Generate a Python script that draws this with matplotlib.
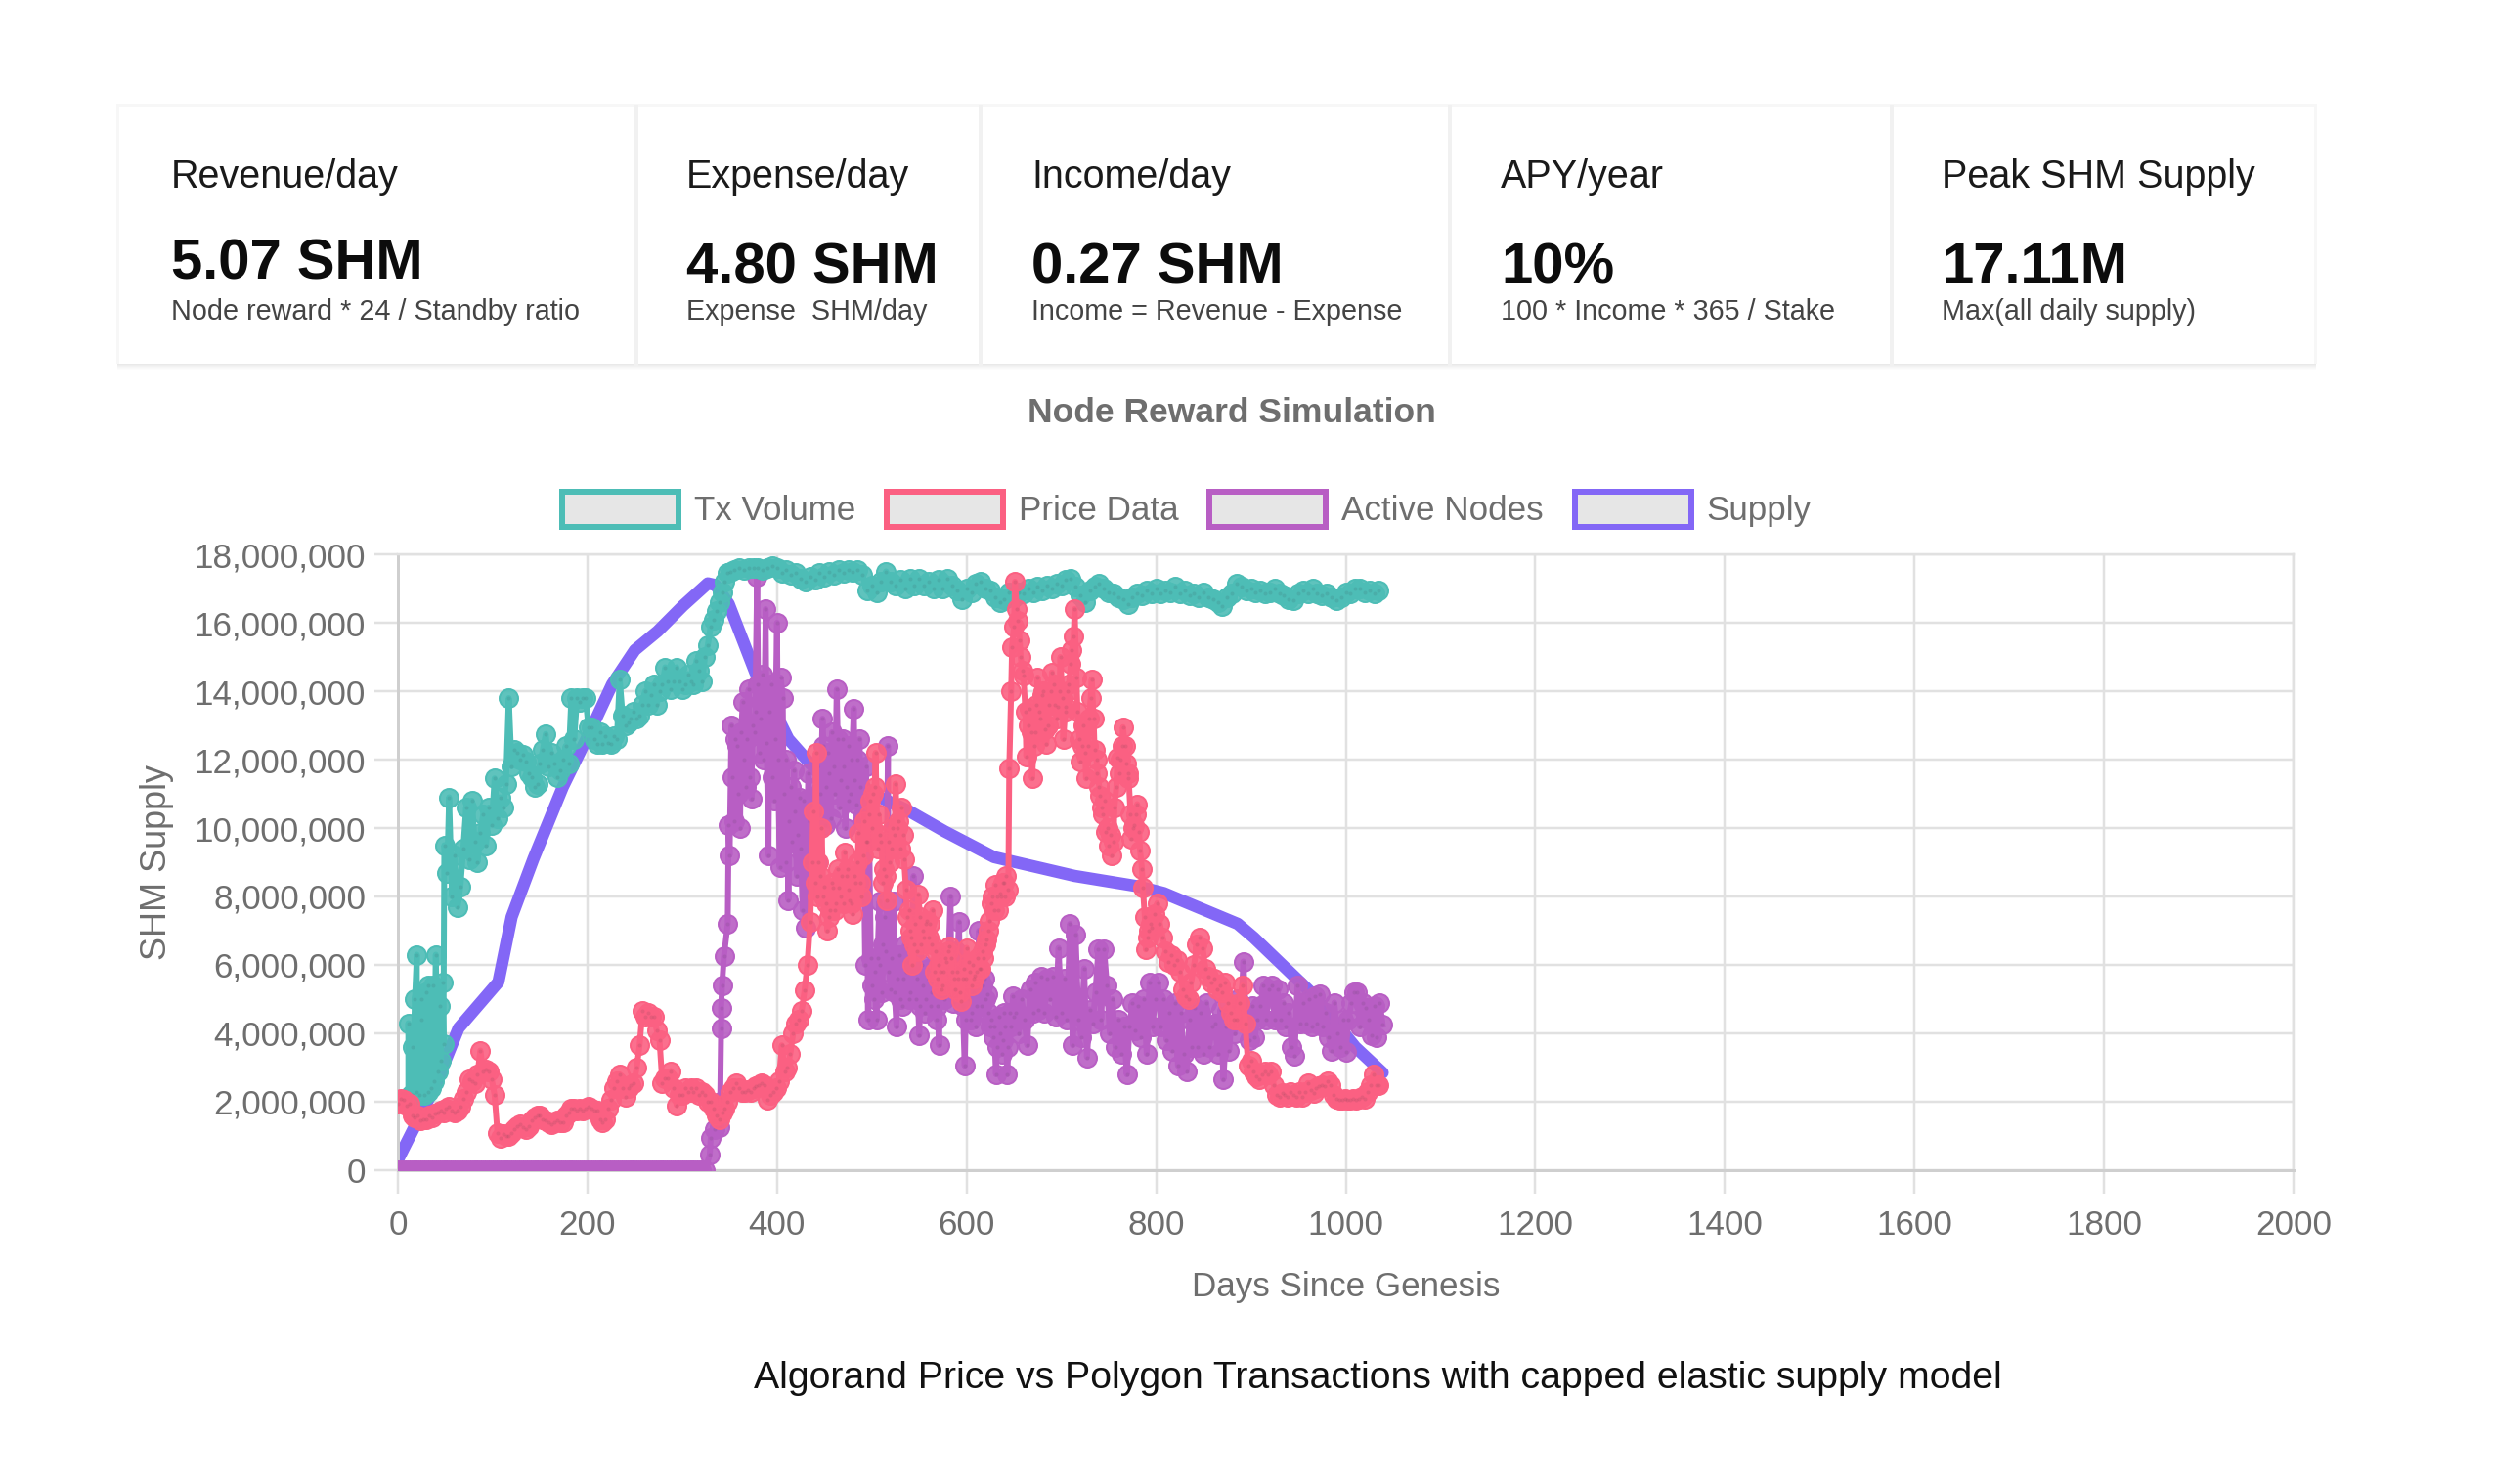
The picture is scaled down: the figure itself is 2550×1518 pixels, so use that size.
import matplotlib
matplotlib.use('Agg')
import matplotlib.pyplot as plt
import numpy as np
from matplotlib.colors import to_rgba
from matplotlib.patches import Patch, Rectangle
from matplotlib.ticker import StrMethodFormatter

# values in millions of SHM
supply_points = [
    (0, 0.3), (40, 2.5), (64, 4.15), (106, 5.5), (120, 7.4), (143, 9.1), (174, 11.2), (205, 12.95),
    (226, 14.2), (250, 15.2), (274, 15.75), (301, 16.5), (327, 17.15), (335, 17.1), (349, 16.55),
    (377, 14.55), (412, 12.6), (436, 11.85), (539, 10.5), (577, 9.9), (629, 9.15), (652, 9.0),
    (714, 8.6), (780, 8.3), (808, 8.1), (886, 7.2), (903, 6.8), (965, 5.15), (1010, 3.6), (1039, 2.85),
]

# Tx Volume: scattered start, then one value every 3 days from day 54, every 5 days from day 355
tx_start = [
    (11, 2.1), (11, 4.3), (13, 2.2), (15, 3.6), (15, 2.2), (18, 5.0), (20, 6.3), (20, 2.3), (23, 2.2),
    (25, 4.4), (25, 5.0), (28, 2.2), (30, 5.2), (32, 2.3), (32, 5.4), (35, 2.4), (37, 5.4), (38, 2.6),
    (40, 6.3), (42, 2.9), (44, 4.8), (45, 3.2), (47, 5.5), (48, 3.7), (49, 9.5), (52, 8.7),
]
tx_rise = [
    10.9, 8.0, 9.2, 7.7, 8.3, 9.4, 10.6, 9.1, 10.8, 9.6,
    9.0, 9.85, 10.4, 9.5, 10.6, 10.1, 11.45, 10.3, 10.9, 10.6,
    11.3, 13.8, 11.8, 12.3, 12.2, 12.0, 12.15, 11.95, 11.6, 11.5,
    11.2, 11.3, 11.9, 12.3, 12.75, 11.8, 12.2, 11.9, 11.5, 11.7,
    12.0, 12.4, 11.9, 13.8, 12.6, 13.8, 13.7, 13.8, 13.8, 12.95,
    12.95, 12.6, 12.45, 12.8, 12.45, 12.7, 12.5, 12.45, 12.7, 12.6,
    14.35, 13.3, 13.0, 13.1, 13.2, 13.4, 13.2, 13.3, 13.6, 14.0,
    13.6, 13.9, 14.2, 13.6, 14.0, 14.2, 14.7, 14.3, 14.05, 14.3,
    14.7, 14.3, 14.05, 14.2, 14.5, 14.3, 14.2, 14.9, 14.6, 14.3,
    15.0, 15.35, 15.9, 16.1, 16.35, 16.6, 16.9, 17.2, 17.45, 17.5,
]
tx_plateau = [
    17.55, 17.6, 17.55, 17.6, 17.6, 17.6, 17.55, 17.6, 17.65, 17.6,
    17.45, 17.55, 17.4, 17.45, 17.3, 17.2, 17.35, 17.25, 17.45, 17.35,
    17.5, 17.4, 17.55, 17.45, 17.55, 17.5, 17.55, 17.4, 16.95, 17.1,
    16.9, 17.2, 17.5, 17.2, 17.1, 17.25, 17.0, 17.3, 17.1, 17.3,
    17.1, 17.2, 17.0, 17.25, 17.0, 17.3, 17.1, 16.95, 16.7, 17.0,
    16.9, 17.15, 17.2, 17.0, 16.95, 16.75, 16.6, 16.7, 16.9, 16.75,
    16.9, 16.85, 17.0, 16.9, 17.05, 16.95, 17.1, 17.0, 17.15, 17.1,
    17.25, 17.3, 17.05, 16.8, 16.6, 16.95, 17.05, 17.15, 17.0, 16.9,
    16.85, 16.75, 16.7, 16.55, 16.75, 16.85, 16.8, 16.95, 16.85, 17.0,
    16.85, 16.95, 16.9, 17.05, 16.85, 16.95, 16.8, 16.85, 16.75, 16.9,
    16.75, 16.7, 16.6, 16.5, 16.75, 16.85, 17.15, 17.05, 16.95, 17.0,
    16.9, 16.95, 16.85, 16.9, 17.0, 16.85, 16.8, 16.7, 16.65, 16.85,
    16.95, 16.85, 17.0, 16.85, 16.8, 16.85, 16.75, 16.65, 16.75, 16.9,
    16.85, 17.0, 17.0, 16.9, 16.95, 16.85, 16.95,
]

# Price Data: one value every 3 days from day 0, plus in-between readings from day 437
price_vals = [
    1.95, 2.1, 2.05, 1.9, 1.95, 1.6, 1.55, 1.6, 1.45, 1.5,
    1.5, 1.6, 1.55, 1.65, 1.7, 1.75, 1.7, 1.8, 1.85, 1.75,
    1.7, 1.75, 1.85, 2.1, 2.3, 2.65, 2.6, 2.55, 2.8, 3.5,
    2.9, 2.95, 2.9, 2.65, 2.2, 1.1, 0.95, 1.05, 1.0, 1.0,
    1.1, 1.2, 1.3, 1.35, 1.25, 1.2, 1.3, 1.45, 1.55, 1.6,
    1.6, 1.5, 1.45, 1.4, 1.35, 1.4, 1.45, 1.4, 1.4, 1.6,
    1.7, 1.8, 1.8, 1.75, 1.8, 1.75, 1.8, 1.85, 1.8, 1.75,
    1.75, 1.5, 1.4, 1.5, 1.8, 2.05, 2.4, 2.6, 2.8, 2.4,
    2.15, 2.4, 2.5, 2.55, 3.0, 3.65, 4.65, 4.5, 4.6, 4.5,
    4.5, 4.1, 3.8, 2.55, 2.7, 2.7, 2.9, 2.4, 1.9, 2.2,
    2.2, 2.4, 2.3, 2.4, 2.3, 2.4, 2.2, 2.3, 2.2, 2.0,
    2.0, 1.8, 1.6, 1.5, 1.7, 1.8, 2.0, 2.3, 2.4, 2.55,
    2.4, 2.3, 2.3, 2.35, 2.3, 2.4, 2.45, 2.5, 2.55, 2.5,
    2.05, 2.2, 2.3, 2.4, 2.6, 3.65, 2.9, 3.0, 3.4, 4.0,
    4.3, 4.4, 4.65, 5.25, 6.0,
    7.25, 10.5, 12.2, 9.0, 10.0, 8.3, 7.0, 7.6, 8.25, 7.8,
    8.25, 8.6, 9.3, 8.8, 7.9, 7.5, 8.4, 9.85, 8.0, 10.2,
    9.6, 10.8, 11.0, 12.2, 10.4, 9.6, 8.8, 7.9, 9.0, 10.0,
    11.3, 10.2, 10.6, 9.1, 7.4, 7.0, 6.0, 7.2, 8.05, 6.6,
    6.8, 7.3, 7.2, 7.6, 6.4, 6.0, 5.3, 5.8, 6.1, 6.55,
    5.8, 5.3, 5.6, 4.95, 5.9, 6.5, 5.8, 6.0, 5.7, 6.2,
    5.9, 6.2, 6.75, 7.3, 8.0, 8.35, 7.6, 8.0, 8.4, 8.6,
    11.75, 15.3, 17.2, 16.05, 15.0, 14.45, 12.1, 13.5, 11.45, 12.8,
    14.4, 13.2, 14.0, 12.45, 13.6, 14.55, 13.6, 13.55, 15.0, 12.6,
    13.55, 14.2, 15.2, 16.4, 13.4, 11.95, 13.0, 11.45, 13.2, 14.35,
    12.3, 11.6, 10.95, 10.4, 9.9, 9.5, 9.2, 10.6, 12.05, 12.0,
    12.95, 11.9, 11.45, 9.7, 10.1, 10.7, 9.35, 8.25, 6.45, 7.0,
    7.1, 7.5, 7.8, 7.2, 6.8, 6.4, 6.1, 6.3, 6.0, 6.15,
    5.8, 5.3, 5.1, 5.0, 5.5, 6.0, 6.6, 6.8, 6.5, 5.9,
    5.65, 5.5, 5.6, 5.3, 5.4, 5.2, 5.5, 4.9, 4.6, 4.4,
    4.4, 4.9, 5.4, 4.3, 3.05, 3.2, 2.9, 2.75, 2.65, 2.8,
    2.9, 2.8, 2.9, 2.5, 2.2, 2.15, 2.25, 2.2, 2.15, 2.3,
    2.2, 2.15, 2.3, 2.15, 2.3, 2.55, 2.35, 2.25, 2.4, 2.45,
    2.5, 2.45, 2.6, 2.5, 2.2, 2.1, 2.05, 2.05, 2.1, 2.05,
    2.05, 2.1, 2.05, 2.1, 2.15, 2.1, 2.3, 2.5, 2.8, 2.5,
    2.5,
]
price_between = [
    9.0, 8.4, 8.0, 8.6, 8.0, 7.8, 7.4, 8.4, 7.6, 8.8,
    8.0, 7.8, 8.6, 8.2, 7.8, 8.6, 9.0, 8.4, 9.2, 9.6,
    10.4, 10.0, 11.2, 9.4, 9.8, 8.4, 8.6, 9.6, 9.4, 9.8,
    10.0, 9.4, 9.8, 8.2, 7.6, 6.8, 6.6, 6.4, 7.4, 7.0,
    7.2, 6.8, 6.6, 5.8, 5.6, 5.8, 5.4, 6.2, 6.4, 6.2,
    5.6, 5.8, 5.2, 5.6, 5.6, 6.1, 5.4, 5.6, 5.8, 5.9,
    6.4, 6.6, 7.0, 7.8, 7.6, 8.0, 8.1, 8.4, 8.0, 8.2,
    14.0, 15.9, 16.4, 15.5, 14.6, 13.4, 13.0, 12.8, 12.4, 13.6,
    13.4, 13.9, 12.9, 13.0, 14.0, 14.2, 13.2, 14.0, 13.8, 13.4,
    14.0, 14.8, 15.6, 14.4, 12.6, 12.4, 12.2, 12.4, 13.8, 13.2,
    12.0, 11.2, 10.6, 10.8, 10.0, 9.8, 9.6, 11.2, 11.6, 12.4,
    12.4, 11.6, 10.4, 10.0, 10.4, 9.9, 8.8, 7.4, 6.8, 7.2,
]

# Active Nodes: zero until day 327, the climb as (day, value), then one value every 3 days from day 352,
# plus in-between readings from day 353
nodes_zero_days = list(range(0, 328, 4))
nodes_climb = [
    (329, 0.45), (330, 0.95), (334, 1.2), (339, 1.25), (340, 2.0), (341, 4.15), (341, 4.75), (342, 5.4),
    (344, 6.25), (348, 7.2), (350, 9.2), (349, 10.1),
]
nodes_rest = [
    13.0, 10.2, 12.4, 10.0, 13.7, 11.2, 14.05, 10.85, 12.8, 17.35,
    12.2, 14.5, 16.4, 9.2, 14.2, 10.8, 16.0, 8.85, 13.8, 9.0,
    7.9, 11.2, 11.7, 8.6, 10.9, 7.6, 7.1, 11.6, 8.2, 10.8,
    9.0, 10.4, 13.2, 10.1, 12.2, 10.3, 11.8, 14.05, 10.6, 12.6,
    10.0, 12.4, 11.0, 13.5, 10.7, 12.6, 10.2, 6.0, 4.4, 6.2,
    5.0, 4.4, 7.85, 5.2, 7.4, 12.4, 5.3, 7.85, 4.2, 6.3,
    4.8, 6.6, 6.1, 5.2, 8.6, 5.0, 3.95, 6.0, 4.6, 5.9,
    4.8, 5.5, 4.4, 3.65, 6.2, 5.0, 5.6, 8.0, 4.9, 6.4,
    7.25, 5.0, 3.05, 5.2, 4.4, 5.8, 4.2, 7.0, 4.8, 5.6,
    5.15, 4.2, 3.9, 2.8, 4.5, 3.4, 4.6, 2.8, 4.6, 5.1,
    4.6, 4.0, 5.0, 4.4, 3.65, 5.3, 4.6, 5.5, 4.7, 5.65,
    4.6, 5.6, 5.0, 5.65, 4.5, 6.5, 4.6, 5.6, 4.4, 7.2,
    3.65, 6.9, 4.4, 3.9, 5.9, 3.3, 4.7, 4.3, 5.2, 6.45,
    4.4, 6.45, 5.4, 4.0, 5.0, 3.6, 4.4, 3.4, 4.2, 2.8,
    4.2, 4.9, 4.1, 4.8, 3.9, 5.0, 3.4, 5.5, 4.2, 5.0,
    5.5, 4.2, 5.0, 3.8, 4.6, 3.5, 4.9, 3.05, 4.6, 3.4,
    2.9, 4.4, 3.6, 4.75, 3.6, 4.6, 3.4, 4.9, 3.6, 4.2,
    4.3, 3.4, 4.7, 2.65, 4.2, 3.5, 4.6, 4.0, 5.0, 4.4,
    6.1, 4.3, 3.8, 4.8, 3.9, 4.4, 4.8, 5.4, 4.4, 5.3,
    5.4, 4.4, 5.3, 4.4, 4.9, 4.2, 4.6, 3.6, 3.35, 5.4,
    4.3, 4.9, 4.3, 5.0, 4.2, 5.1, 4.3, 5.15, 4.2, 4.6,
    3.9, 3.5, 4.9, 4.0, 3.6, 4.4, 3.45, 4.4, 4.9, 5.2,
    5.2, 4.2, 4.9, 4.75, 4.4, 3.95, 4.8, 3.9, 4.9, 4.25,
]
nodes_between = [
    11.5, 12.6, 11.0, 12.8, 12.0, 12.6, 11.5, 13.0, 13.4, 14.2,
    13.2, 12.0, 12.5, 13.4, 11.5, 12.6, 12.0, 14.4, 11.0, 12.0,
    10.2, 9.6, 10.5, 9.8, 9.4, 10.8, 9.0, 10.2, 9.4, 11.2,
    11.8, 11.0, 12.4, 11.2, 11.6, 12.8, 11.0, 12.6, 11.4, 11.8,
    11.2, 10.8, 12.0, 11.4, 12.0, 11.2, 10.4, 11.8, 10.2, 5.4,
    5.8, 6.2, 6.0, 6.6, 6.4, 5.8, 6.2, 5.2, 5.6, 5.0,
    5.6, 5.8, 5.0, 6.0, 6.4, 5.6, 4.8, 5.4, 5.0, 5.6,
    5.2, 5.8, 4.8, 5.4, 6.0, 5.4, 6.2, 5.6, 5.2, 6.0,
    5.6, 4.8, 4.4, 5.0, 4.6, 5.2, 4.8, 5.6, 5.4, 5.0,
    4.6, 4.4, 4.2, 3.6, 4.0, 3.8, 4.2, 3.6, 4.2, 4.5,
]

series_labels = ['Tx Volume', 'Price Data', 'Active Nodes', 'Supply']
series_colors = ['#4dbdb6', '#fb6082', '#b85ec4', '#8367f6']

card_titles = ['Revenue/day', 'Expense/day', 'Income/day', 'APY/year', 'Peak SHM Supply']
card_values = ['5.07 SHM', '4.80 SHM', '0.27 SHM', '10%', '17.11M']
card_notes = ['Node reward * 24 / Standby ratio', 'Expense  SHM/day', 'Income = Revenue - Expense',
              '100 * Income * 365 / Stake', 'Max(all daily supply)']
card_text_x = [175, 702, 1055, 1535, 1986]
card_value_y = [270, 274, 274, 274, 274]
card_dividers = [651, 1003, 1483, 1935]

W, H = 2550, 1518
SANS = ['Liberation Sans', 'DejaVu Sans']
GREY = '#6e6e6e'
GRID = '#e1e1e1'

plt.rcParams['font.family'] = SANS


def fx(x):
    return x / W


def fy(y):
    return 1 - y / H


def pts(px):
    return px * 0.72


def by_day(days, vals):
    days = np.array(days)
    order = np.argsort(days, kind='stable')
    return days[order], np.array(vals)[order] * 1e6


fig = plt.figure(figsize=(W / 100, H / 100), dpi=100, facecolor='white')

# --- stat cards ---
card_l, card_r, card_t, card_b = 122, 2367, 109, 372
fig.add_artist(Rectangle((fx(card_l - 3), fy(card_b)), (card_r - card_l + 6) / W, (card_b - card_t + 3) / H,
                         transform=fig.transFigure, fc='#f7f7f7', lw=0))
for i, shade in enumerate(['#e9e9e9', '#eeeeee', '#f2f2f2', '#f6f6f6', '#f9f9f9', '#fcfcfc']):
    fig.add_artist(Rectangle((fx(card_l - 2), fy(card_b + i + 1)), (card_r - card_l + 4) / W, 1 / H,
                             transform=fig.transFigure, fc=shade, lw=0))
fig.add_artist(Rectangle((fx(card_l), fy(card_b)), (card_r - card_l) / W, (card_b - card_t) / H,
                         transform=fig.transFigure, fc='white', lw=0))
for xd in card_dividers:
    fig.add_artist(plt.Line2D([fx(xd), fx(xd)], [fy(card_t), fy(card_b)], color='#f1f1f1', lw=pts(4)))

for x, title, value, note, vy in zip(card_text_x, card_titles, card_values, card_notes, card_value_y):
    fig.text(fx(x), fy(181), title, family=SANS, fontsize=pts(39.5), color='#1a1a1a', ha='left', va='center')
    fig.text(fx(x), fy(vy), value, family=SANS, fontweight='bold', fontsize=pts(58), color='#0c0c0c', ha='left', va='center')
    fig.text(fx(x), fy(319), note, family=SANS, fontsize=pts(28.8), color='#444444', ha='left', va='center')

fig.text(fx(1260), fy(423), 'Node Reward Simulation', fontweight='bold', fontsize=pts(35.5), color=GREY, ha='center', va='center')
fig.text(fx(1409), fy(1410), 'Algorand Price vs Polygon Transactions with capped elastic supply model',
         fontsize=pts(39.3), color='#111111', ha='center', va='center')

# --- chart ---
ax = fig.add_axes([fx(407), fy(1197), (2346 - 407) / W, (1197 - 567) / H])
ax.set_xlim(0, 2000)
ax.set_ylim(0, 18000000)
ax.set_xticks(np.arange(0, 2001, 200))
ax.set_yticks(np.arange(0, 18000001, 2000000))
ax.yaxis.set_major_formatter(StrMethodFormatter('{x:,.0f}'))
ax.grid(True, color=GRID, lw=pts(2.5))
ax.set_axisbelow(True)
for side in ['top', 'right']:
    ax.spines[side].set_color(GRID)
    ax.spines[side].set_linewidth(pts(2.5))
for side in ['left', 'bottom']:
    ax.spines[side].set_color('#cfcfcf')
    ax.spines[side].set_linewidth(pts(3))
ax.tick_params(axis='both', length=pts(24), width=pts(2.5), color=GRID, labelcolor=GREY, labelsize=pts(35))
ax.tick_params(axis='x', pad=pts(16))
ax.tick_params(axis='y', pad=pts(9))
ax.set_xlabel('Days Since Genesis', fontsize=pts(35), color=GREY, labelpad=pts(30))
ax.set_ylabel('SHM Supply', fontsize=pts(36), color=GREY, labelpad=pts(21))

sx, sy = np.array(supply_points).T
ax.plot(sx, sy * 1e6, color=series_colors[3], lw=pts(12.5), solid_joinstyle='round', solid_capstyle='round', zorder=2)

tx_days = [p[0] for p in tx_start] + [54 + 3 * i for i in range(len(tx_rise))] + [355 + 5 * i for i in range(len(tx_plateau))]
tx_all = [p[1] for p in tx_start] + tx_rise + tx_plateau
price_days = [3 * i for i in range(len(price_vals))] + [437 + 3 * i for i in range(len(price_between))]
price_all = price_vals + price_between
nodes_days = nodes_zero_days + [p[0] for p in nodes_climb] + [352 + 3 * i for i in range(len(nodes_rest))] \
    + [353 + 3 * i for i in range(len(nodes_between))]
nodes_all = [0.0] * len(nodes_zero_days) + [p[1] for p in nodes_climb] + nodes_rest + nodes_between

layers = [(nodes_days, nodes_all, series_colors[2], 3), (tx_days, tx_all, series_colors[0], 4),
          (price_days, price_all, series_colors[1], 5)]
for days, vals, color, z in layers:
    d, v = by_day(days, vals)
    ax.plot(d, v, color=color, lw=pts(6), marker='o', ms=pts(19), mfc=to_rgba(color, 0.9), mec=color, mew=pts(2), zorder=z)
    ax.plot(d[v > 0], v[v > 0], ls='none', marker='o', ms=pts(4), color='#30303a', alpha=0.1, mew=0, zorder=z)

handles = [Patch(fc='#e6e6e6', ec=c, lw=pts(6), label=l) for l, c in zip(series_labels, series_colors)]
fig.legend(handles=handles, loc='center', bbox_to_anchor=(fx(1214), fy(521)), ncol=4, frameon=False,
           fontsize=pts(35), handlelength=3.4, handleheight=1.2, handletextpad=0.45, columnspacing=0.91,
           borderpad=0, borderaxespad=0, labelcolor=GREY)

fig.savefig('out.png', dpi=100)
